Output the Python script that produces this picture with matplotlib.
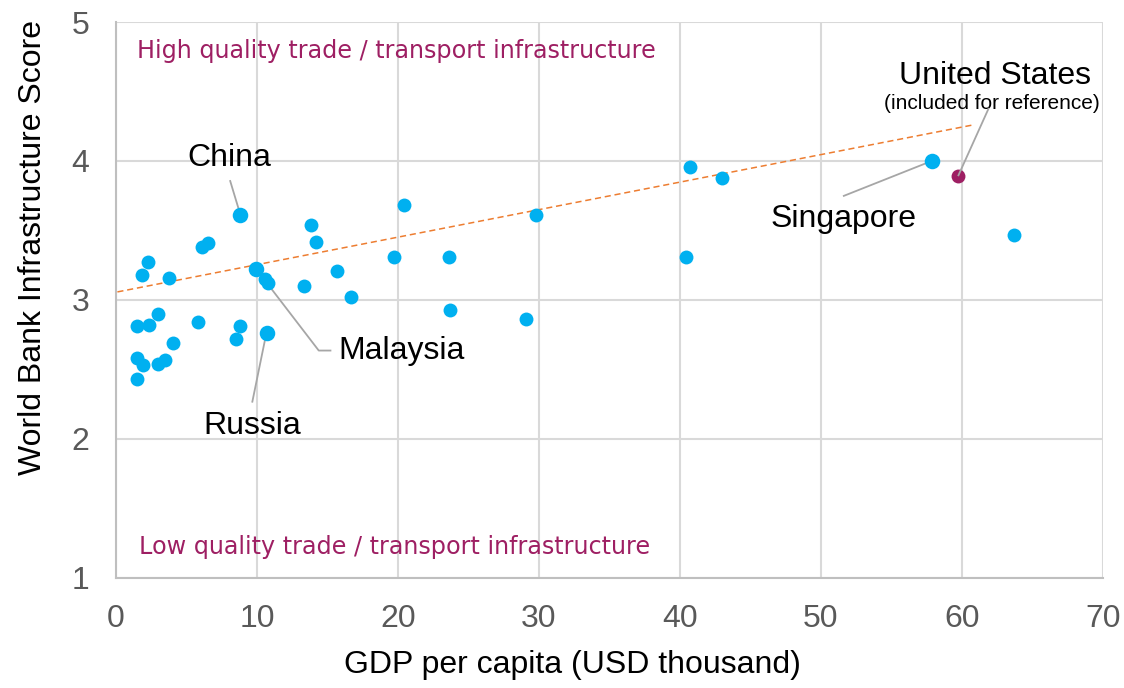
import numpy as np
import matplotlib.pyplot as plt

plt.rcParams['font.family'] = ['Liberation Sans', 'DejaVu Sans']

# GDP per capita (USD thousand) and infrastructure score, other countries
gdp = [20.4, 13.8, 14.2, 6.56, 6.13, 2.3, 1.87, 3.79, 19.7, 10.6,
       10.8, 13.3, 15.7, 16.7, 2.96, 1.47, 2.37, 5.85, 8.81, 8.48,
       4.07, 1.47, 1.94, 3.0, 3.48, 1.47, 29.8, 23.6, 23.7, 29.1,
       40.7, 43.0, 63.7, 40.4]
score = [3.68, 3.54, 3.42, 3.41, 3.38, 3.27, 3.18, 3.16, 3.31, 3.15,
         3.12, 3.10, 3.21, 3.02, 2.90, 2.81, 2.82, 2.84, 2.81, 2.72,
         2.69, 2.58, 2.53, 2.54, 2.57, 2.43, 3.61, 3.31, 2.93, 2.86,
         3.96, 3.88, 3.47, 3.31]

# highlighted countries
hl_names = ['China', 'Malaysia', 'Russia', 'Singapore']
hl_gdp = [8.8, 9.93, 10.73, 57.85]
hl_score = [3.61, 3.22, 2.76, 4.0]

# United States (reference)
us_gdp = 59.7
us_score = 3.89

# trendline
trend_x = [0.1, 60.9]
trend_slope = 0.0198
trend_icpt = 3.056

blue = '#00B0F0'
purple = '#9E1F63'
grey_line = '#A6A6A6'
fs = 23

fig = plt.figure(figsize=(11.24, 6.88), dpi=100)
ax = fig.add_axes([0.1032, 0.160, 0.8781, 0.808])

ax.set_xlim(0, 70)
ax.set_ylim(1, 5)
ax.set_xticks(range(0, 71, 10))
ax.set_yticks(range(1, 6))
ax.grid(True, color='#D9D9D9', linewidth=1.5)
ax.set_axisbelow(True)
for s in ['top', 'right']:
    ax.spines[s].set_visible(False)
for s in ['left', 'bottom']:
    ax.spines[s].set_color('#BFBFBF')
    ax.spines[s].set_linewidth(1.5)
ax.tick_params(length=0, labelsize=fs, labelcolor='#595959', pad=19)

# trendline
tx = np.array(trend_x)
ax.plot(tx, trend_icpt + trend_slope * tx, color='#ED7D31', linestyle='--',
        linewidth=1.1, dashes=(4, 2.5), zorder=2)

# leader lines
ax.plot([8.10, 8.76], [3.856, 3.634], color=grey_line, lw=1.3, zorder=2)
ax.plot([10.0, 14.38, 15.21], [3.215, 2.636, 2.636], color=grey_line, lw=1.3, zorder=2)
ax.plot([10.64, 9.67], [2.749, 2.268], color=grey_line, lw=1.3, zorder=2)
ax.plot([57.85, 51.62], [4.0, 3.749], color=grey_line, lw=1.3, zorder=2)
ax.plot([59.75, 61.88], [3.897, 4.376], color=grey_line, lw=1.3, zorder=4)

ax.scatter(gdp, score, s=100, color=blue, linewidths=0, zorder=3)
ax.scatter(hl_gdp, hl_score, s=125, color=blue, linewidths=0, zorder=3)
ax.scatter([us_gdp], [us_score], s=100, color=purple, linewidths=0, zorder=3)

# labels
ax.text(8.03, 4.02, 'China', fontsize=fs, ha='center', va='center')
ax.text(15.78, 2.63, 'Malaysia', fontsize=fs, ha='left', va='center')
ax.text(9.66, 2.09, 'Russia', fontsize=fs, ha='center', va='center')
ax.text(51.6, 3.58, 'Singapore', fontsize=fs, ha='center', va='center')
ax.text(62.33, 4.615, 'United States', fontsize=fs, ha='center', va='center')
ax.text(62.15, 4.412, '(included for reference)', fontsize=15, ha='center', va='center')

ax.text(1.49, 4.795, 'High quality trade / transport infrastructure', fontsize=17.2,
        color=purple, ha='left', va='center', family='DejaVu Sans')
ax.text(1.63, 1.22, 'Low quality trade / transport infrastructure', fontsize=17.2,
        color=purple, ha='left', va='center', family='DejaVu Sans')

ax.set_xlabel('GDP per capita (USD thousand)', fontsize=fs)
ax.xaxis.set_label_coords(0.462, -0.13)
ax.set_ylabel('World Bank Infrastructure Score', fontsize=fs)
ax.yaxis.set_label_coords(-0.069, 0.594)

fig.savefig('out.png', dpi=100)
